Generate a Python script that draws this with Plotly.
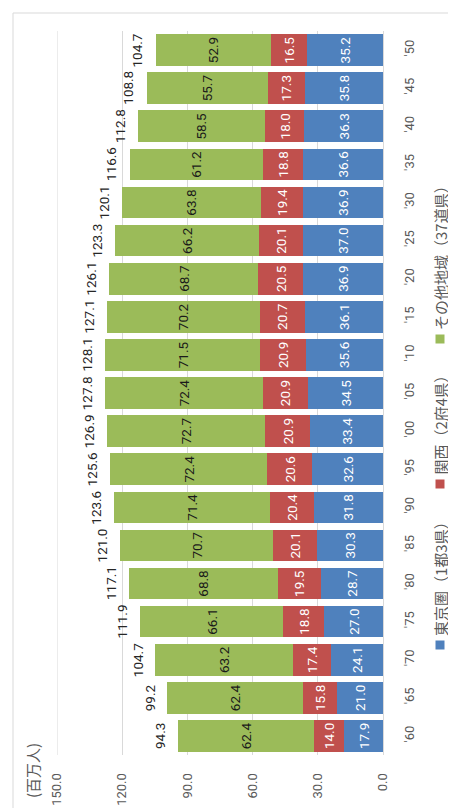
import plotly.graph_objects as go

years = ["'60", "'65", "'70", "'75", "'80", "'85", "'90", "'95", "'00", "'05",
         "'10", "'15", "'20", "'25", "'30", "'35", "'40", "'45", "'50"]
tokyo = [17.9, 21.0, 24.1, 27.0, 28.7, 30.3, 31.8, 32.6, 33.4, 34.5,
         35.6, 36.1, 36.9, 37.0, 36.9, 36.6, 36.3, 35.8, 35.2]
kansai = [14.0, 15.8, 17.4, 18.8, 19.5, 20.1, 20.4, 20.6, 20.9, 20.9,
          20.9, 20.7, 20.5, 20.1, 19.4, 18.8, 18.0, 17.3, 16.5]
other = [62.4, 62.4, 63.2, 66.1, 68.8, 70.7, 71.4, 72.4, 72.7, 72.4,
         71.5, 70.2, 68.7, 66.2, 63.8, 61.2, 58.5, 55.7, 52.9]
totals = [94.3, 99.2, 104.7, 111.9, 117.1, 121.0, 123.6, 125.6, 126.9, 127.8,
          128.1, 127.1, 126.1, 123.3, 120.1, 116.6, 112.8, 108.8, 104.7]
series_names = ["東京圏（1都3県）", "関西（2府4県）", "その他地域（37道県）"]
series_colors = ["#4F81BD", "#C0504D", "#9BBB59"]
value_ticks = [0, 30, 60, 90, 120, 150]
unit_label = "(百万人)"

W, H = 456, 808
PL, PR, PT, PB = 49, 375, 23, 747
NUM_FONT = "Roboto, 'Noto Sans CJK JP', sans-serif"
CJK_FONT = "'Noto Sans CJK JP', sans-serif"


def px_x(px):
    return (px - PL) / (PR - PL)


def px_y(py):
    return (PB - py) / (PB - PT)


fig = go.Figure()
text_colors = ["#FFFFFF", "#FFFFFF", "#1A1A1A"]
for name, vals, col, tc in zip(series_names, [tokyo, kansai, other], series_colors, text_colors):
    fig.add_trace(go.Bar(
        y=years, x=vals, orientation="h", name=name,
        marker=dict(color=col, line=dict(width=0)),
        text=[f"{v:.1f}" for v in vals], textposition="inside",
        insidetextanchor="middle", textangle=-90, constraintext="none",
        textfont=dict(family=NUM_FONT, size=13.5, color=tc),
        showlegend=False, hoverinfo="skip",
    ))

annotations = []
for yr, t in zip(years, totals):
    annotations.append(dict(
        x=t, y=yr, xref="x", yref="y", text=f"{t:.1f}", showarrow=False,
        textangle=-90, xanchor="center", yanchor="middle", xshift=-18,
        font=dict(family=NUM_FONT, size=13.5, color="#262626"),
    ))

# legend (rotated)
shapes = []
leg_x = 432
leg_sq_y = [637, 476, 331]
for name, col, sy in zip(series_names, series_colors, leg_sq_y):
    shapes.append(dict(type="rect", xref="paper", yref="paper",
                       x0=px_x(leg_x - 4.5), x1=px_x(leg_x + 4.5),
                       y0=px_y(sy + 4.5), y1=px_y(sy - 4.5),
                       fillcolor=col, line=dict(width=0)))
    annotations.append(dict(
        x=px_x(leg_x), y=px_y(sy - 7), xref="paper", yref="paper",
        text=name, showarrow=False, textangle=-90,
        xanchor="center", yanchor="bottom",
        font=dict(family=CJK_FONT, size=15, color="#595959"),
    ))

annotations.append(dict(
    x=px_x(24), y=px_y(763), xref="paper", yref="paper", text=unit_label,
    showarrow=False, textangle=-90, xanchor="center", yanchor="middle",
    font=dict(family=CJK_FONT, size=15, color="#595959"),
))

# gridline at the far edge (150) which plotly omits at the plot border
shapes.append(dict(type="line", xref="x", yref="paper", x0=150, x1=150, y0=0, y1=1,
                   line=dict(color="#D9D9D9", width=1), layer="below"))

shapes.append(dict(type="rect", xref="paper", yref="paper",
                   x0=px_x(5), x1=px_x(452), y0=px_y(804), y1=px_y(5),
                   line=dict(color="#D9D9D9", width=1), fillcolor="rgba(0,0,0,0)",
                   layer="below"))

fig.update_layout(
    width=W, height=H,
    margin=dict(l=PL, r=W - PR, t=PT, b=H - PB, pad=0),
    barmode="stack", bargap=0.17,
    plot_bgcolor="white", paper_bgcolor="white",
    showlegend=False,
    annotations=annotations, shapes=shapes,
    xaxis=dict(
        range=[150, 0], tickmode="array", tickvals=value_ticks,
        ticktext=[f"{v:.1f}" for v in value_ticks],
        tickangle=-90, showgrid=True, gridcolor="#D9D9D9", gridwidth=1,
        zeroline=True, zerolinecolor="#D9D9D9", zerolinewidth=1,
        showline=False, ticks="outside", ticklen=12, tickcolor="rgba(0,0,0,0)",
        tickfont=dict(family=NUM_FONT, size=13, color="#595959"),
        fixedrange=True, automargin=False,
    ),
    yaxis=dict(
        type="category", side="right", tickangle=-90, showgrid=False,
        showline=False, ticks="outside", ticklen=14, tickcolor="rgba(0,0,0,0)",
        range=[-0.5, len(years) - 0.5],
        tickfont=dict(family=NUM_FONT, size=13, color="#595959"),
        fixedrange=True, automargin=False,
    ),
)

fig.write_html("out.html")
